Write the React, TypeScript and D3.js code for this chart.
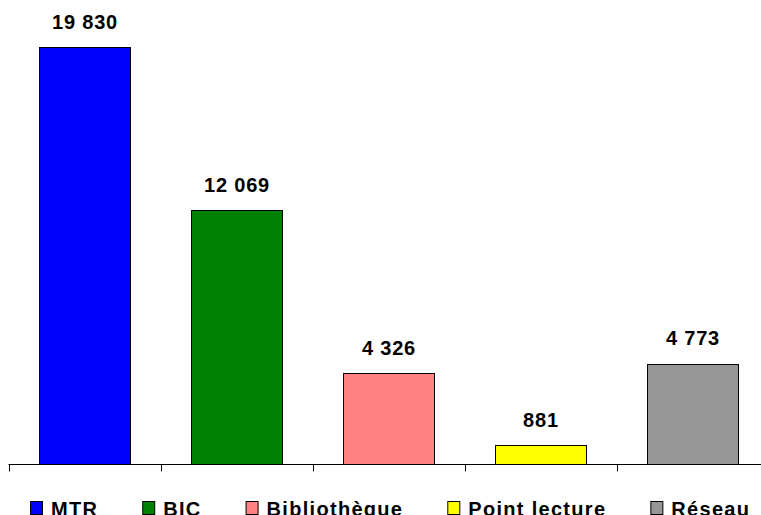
import React, { useEffect, useRef } from "react";
import * as d3 from "d3";

const categories = ["MTR", "BIC", "Bibliothèque", "Point lecture", "Réseau"];
const values = [19830, 12069, 4326, 881, 4773];
const colors = ["#0000FF", "#008000", "#FF8080", "#FFFF00", "#969696"];
const yDomain = [0, 20000];

const W = 761;
const H = 515;
const FONT = "'Liberation Sans', Arial, sans-serif";

function fmt(v: number) {
  return d3.format(",")(v).replace(/,/g, " ");
}

export default function App() {
  const ref = useRef<SVGSVGElement | null>(null);

  useEffect(() => {
    const svg = d3.select(ref.current);
    svg.selectAll("*").remove();

    const x = d3
      .scaleBand<string>()
      .domain(categories)
      .range([8.5, 768.5])
      .paddingInner(0.4)
      .paddingOuter(0.2);
    const y = d3.scaleLinear().domain(yDomain).range([464, 43.7]);
    const step = x.step();
    const x0 = 8.5;

    const data = categories.map((c, i) => ({ c, v: values[i], col: colors[i] }));

    // bars
    svg
      .append("g")
      .selectAll("rect")
      .data(data)
      .join("rect")
      .attr("x", (d) => Math.round(x(d.c)!) + 0.5)
      .attr("y", (d) => Math.round(y(d.v)) + 0.5)
      .attr("width", Math.round(x.bandwidth()))
      .attr("height", (d) => Math.round(y(0)) - Math.round(y(d.v)))
      .attr("fill", (d) => d.col)
      .attr("stroke", "#000")
      .attr("stroke-width", 1);

    // axis line
    const axisY = Math.round(y(0)) + 0.5;
    svg
      .append("line")
      .attr("x1", x0)
      .attr("x2", x0 + step * categories.length)
      .attr("y1", axisY)
      .attr("y2", axisY)
      .attr("stroke", "#000")
      .attr("stroke-width", 1);
    // ticks at category boundaries
    svg
      .append("g")
      .selectAll("line")
      .data(d3.range(categories.length + 1))
      .join("line")
      .attr("x1", (k) => Math.round(x0 + k * step) + 0.5)
      .attr("x2", (k) => Math.round(x0 + k * step) + 0.5)
      .attr("y1", axisY)
      .attr("y2", axisY + 7)
      .attr("stroke", "#000")
      .attr("stroke-width", 1);

    // value labels
    svg
      .append("g")
      .selectAll("text")
      .data(data)
      .join("text")
      .attr("x", (d) => x(d.c)! + x.bandwidth() / 2 + 0.5)
      .attr("y", (d) => y(d.v) - 18.5)
      .attr("text-anchor", "middle")
      .attr("font-family", FONT)
      .attr("font-weight", "bold")
      .attr("font-size", 20)
      .attr("letter-spacing", "0.8px")
      .attr("fill", "#000")
      .text((d) => fmt(d.v));

    // legend
    const lg = svg.append("g");
    let cx = 30;
    data.forEach((d) => {
      lg.append("rect")
        .attr("x", cx + 0.5)
        .attr("y", 501.5)
        .attr("width", 12)
        .attr("height", 13)
        .attr("fill", d.col)
        .attr("stroke", "#000")
        .attr("stroke-width", 1);
      const t = lg
        .append("text")
        .attr("x", cx + 21)
        .attr("y", 515.5)
        .attr("font-family", FONT)
        .attr("font-weight", "bold")
        .attr("font-size", 20)
        .attr("letter-spacing", "1.3px")
        .attr("fill", "#000")
        .text(d.c);
      const w = (t.node() as SVGTextElement).getComputedTextLength();
      cx = cx + 21 + w + 44;
    });
  }, []);

  return (
    <svg
      ref={ref}
      width={W}
      height={H}
      style={{ position: "absolute", left: 0, top: 0, background: "#fff" }}
    />
  );
}
